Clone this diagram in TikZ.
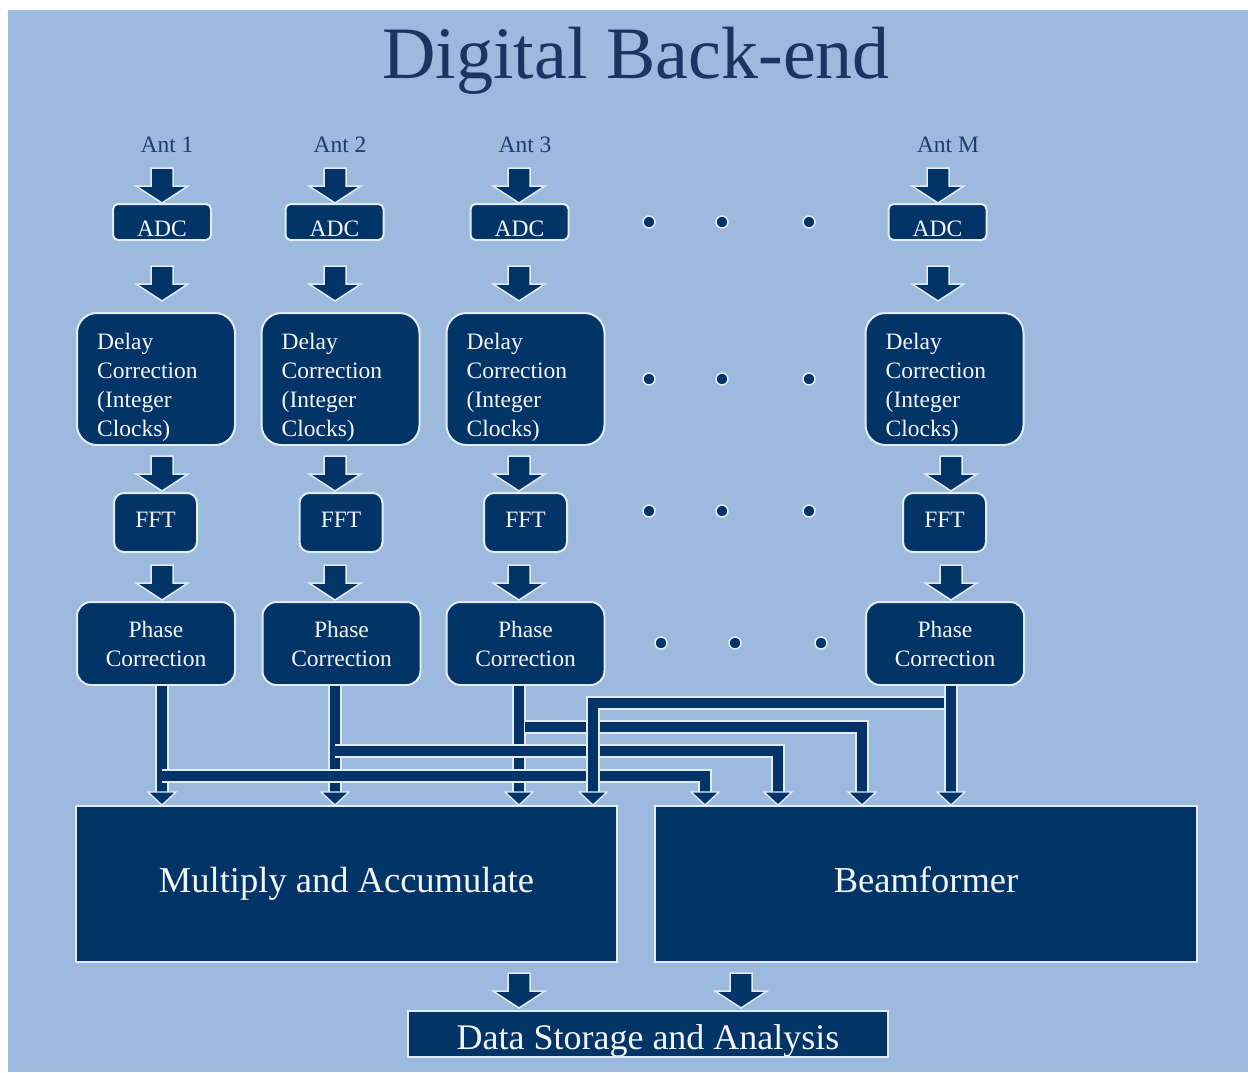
\documentclass[tikz,border=0pt]{standalone}
\usepackage{fontspec}
\setmainfont{Liberation Serif}
\usetikzlibrary{calc}
\definecolor{bgblue}{HTML}{9BBADD}
\definecolor{navy}{HTML}{033468}
\definecolor{edge}{HTML}{E2ECF7}
\definecolor{titlec}{HTML}{1A3560}
\definecolor{antc}{HTML}{1E3D6D}
\definecolor{txt}{HTML}{F4F6FA}
\tikzset{
  box/.style={draw=edge, line width=2pt, fill=navy, text=txt, inner sep=0pt,
    font=\fontsize{23.5}{29}\selectfont},
  boxtxt/.style={text=txt, inner sep=0pt, font=\fontsize{23.5}{29}\selectfont},
  bigbox/.style={draw=edge, line width=2pt, fill=navy, text=txt, inner sep=0pt,
    font=\fontsize{36.5}{40}\selectfont},
  antlbl/.style={text=antc, anchor=base, inner sep=0pt, font=\fontsize{23.5}{28}\selectfont},
  dotnode/.style={circle, fill=navy, draw=edge, line width=1.5pt, minimum size=12pt, inner sep=0pt},
  bus/.style={draw=navy, line width=10pt, line join=miter, preaction={draw=edge, line width=13.5pt}},
  pics/barrow/.style={code={
    \filldraw[fill=navy, draw=edge, line width=1.5pt, line join=miter]
      (0,0) -- (-26,-17) -- (-11,-17) -- (-11,-35) -- (11,-35) -- (11,-17) -- (26,-17) -- cycle;}},
  pics/thead/.style={code={
    \filldraw[fill=navy, draw=edge, line width=1.3pt, line join=miter]
      (0,0) -- (-14,-13) -- (14,-13) -- cycle;}},
}
\newcommand{\lowered}[2]{\raisebox{-#1}[0pt][0pt]{#2}}
\newcommand{\antcol}[9]{%
  \node[antlbl] (ant#1) at (#2,152) {#3};
  \coordinate (at#1) at (#8,0);
  \coordinate (ab#1) at (#9,0);
  \node[box, rounded corners=5pt, minimum width=98pt, minimum height=36pt] (adc#1) at (#4,222) {\lowered{14pt}{ADC}};
  \node[box, rounded corners=20pt, minimum width=158pt, minimum height=132pt] (dl#1) at (#5,379) {};
  \node[boxtxt, align=left, anchor=north west] (dlt#1) at ($(dl#1.north west)+(21,21)$) {Delay\\Correction\\(Integer\\Clocks)};
  \node[box, rounded corners=10pt, minimum width=83pt, minimum height=59pt] (fft#1) at (#6,522.5) {\lowered{5pt}{FFT}};
  \node[box, rounded corners=14pt, minimum width=158pt, minimum height=83pt, align=center] (ph#1) at (#7,643.5) {Phase\\Correction};
  \pic at (at#1 |- adc#1.north) {barrow};
  \pic at ($(at#1 |- dl#1.north)+(0,-11)$) {barrow};
  \pic at ($(ab#1 |- fft#1.north)+(0,-1)$) {barrow};
  \pic at ($(ab#1 |- ph#1.north)+(0,-1)$) {barrow};
}
\begin{document}
\begin{tikzpicture}[x=1pt,y=-1pt]
\useasboundingbox (0,0) rectangle (1248,1072);
\fill[white] (0,0) rectangle (1248,1072);
\fill[bgblue] (8,10) rectangle (1248,1072);

\node[text=titlec, anchor=base, inner sep=0pt, font=\fontsize{74}{80}\selectfont] (title) at (636,78) {Digital Back-end};

\antcol{1}{167}{Ant 1}{162}{156}{155.5}{156}{162}{162}
\antcol{2}{340}{Ant 2}{334.5}{340.5}{341}{341.5}{335}{335}
\antcol{3}{525}{Ant 3}{519.5}{525.5}{525.5}{525.5}{519}{519}
\antcol{M}{948}{Ant M}{937.5}{944.5}{944.5}{945}{938}{951}

% dots
\foreach \y/\r in {222/a,379/b,511/c}{
  \foreach \x/\i in {649/1,722/2,809/3}{
    \node[dotnode] (dot\r\i) at (\x,\y) {};
  }
}
\foreach \x/\i in {661/1,735/2,821/3}{
  \node[dotnode] (dotd\i) at (\x,643) {};
}

% big boxes
\node[bigbox, minimum width=541pt, minimum height=156pt] (mac) at (346.5,884) {\lowered{8pt}{Multiply and Accumulate}};
\node[bigbox, minimum width=542pt, minimum height=156pt] (beam) at (926,884) {\lowered{8pt}{Beamformer}};
\node[bigbox, minimum width=480pt, minimum height=46pt, font=\fontsize{36}{40}\selectfont] (data) at (648,1034) {\lowered{15pt}{Data Storage and Analysis}};

% bus connectors
\coordinate (j1) at (162,776); \coordinate (k1) at (705,776);
\coordinate (j2) at (335,751); \coordinate (k2) at (778,751);
\coordinate (j3) at (525,727); \coordinate (k3) at (862,727);
\coordinate (jM) at (951,703); \coordinate (kM) at (593,703);

\draw[bus] (ab1 |- ph1.south) -- ($(ab1 |- mac.north)+(0,-10)$);
\draw[bus] (ab2 |- ph2.south) -- ($(ab2 |- mac.north)+(0,-10)$);
\draw[bus] (ab3 |- ph3.south) -- ($(ab3 |- mac.north)+(0,-10)$);
\draw[bus] (j1) -- (k1) -- ($(k1 |- beam.north)+(0,-10)$);
\draw[bus] (j2) -- (k2) -- ($(k2 |- beam.north)+(0,-10)$);
\draw[bus] (j3) -- (k3) -- ($(k3 |- beam.north)+(0,-10)$);
\draw[bus] (jM) -- (kM) -- ($(kM |- mac.north)+(0,-10)$);
\draw[bus] (abM |- phM.south) -- ($(abM |- beam.north)+(0,-10)$);

\pic at (ab1 |- mac.north) {thead};
\pic at (ab2 |- mac.north) {thead};
\pic at (ab3 |- mac.north) {thead};
\pic at (kM |- mac.north) {thead};
\pic at (k1 |- beam.north) {thead};
\pic at (k2 |- beam.north) {thead};
\pic at (k3 |- beam.north) {thead};
\pic at (abM |- beam.north) {thead};

% outputs to data storage
\coordinate (o1) at (519,0);
\coordinate (o2) at (741,0);
\pic at ($(o1 |- data.north)+(0,-2)$) {barrow};
\pic at ($(o2 |- data.north)+(0,-2)$) {barrow};
\end{tikzpicture}
\end{document}
